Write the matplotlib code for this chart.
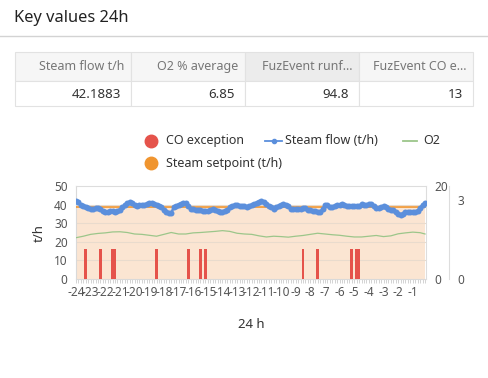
import matplotlib
matplotlib.use("Agg")
import matplotlib.pyplot as plt
from matplotlib.patches import Rectangle
from matplotlib.lines import Line2D

plt.rcParams['font.family'] = ['Noto Sans', 'DejaVu Sans']
plt.rcParams['axes.unicode_minus'] = False

W, H = 488, 378

# ---------------- data ----------------
title = "Key values 24h"
table_headers = ["Steam flow t/h", "O2 % average", "FuzEvent runf...", "FuzEvent CO e..."]
table_values = ["42.1883", "6.85", "94.8", "13"]

hour_ticks = list(range(-24, 0))
hour_labels = [str(h) for h in hour_ticks]

# steam flow every 10 minutes, from -24 h to -10 min
steam_flow = [
    42.1, 41.5, 39.8, 39.0, 38.5, 38.0,
    37.5, 37.6, 38.0, 38.4, 37.5, 36.8,
    35.8, 36.2, 36.5, 36.3, 36.2, 36.6,
    37.0, 38.5, 40.0, 40.8, 41.2, 41.0,
    40.0, 39.2, 39.6, 40.0, 39.8, 40.3,
    41.0, 40.8, 40.2, 39.8, 39.2, 38.8,
    37.0, 35.8, 35.6, 35.3, 38.5, 39.4,
    40.0, 40.3, 40.7, 41.0, 39.0, 37.6,
    37.4, 37.1, 37.0, 36.9, 36.8, 36.5,
    36.4, 37.0, 37.5, 37.2, 36.8, 36.0,
    35.8, 36.6, 37.2, 38.5, 39.2, 39.7,
    39.8, 39.5, 39.2, 39.0, 38.6, 39.2,
    39.8, 40.3, 41.0, 41.5, 41.8, 41.3,
    40.5, 39.5, 38.6, 37.7, 38.5, 39.2,
    39.8, 40.3, 40.0, 39.2, 37.8, 37.5,
    37.5, 37.6, 37.6, 38.0, 38.0, 37.3,
    37.0, 36.6, 36.3, 35.9, 36.2, 37.5,
    39.8, 40.0, 38.6, 38.8, 39.2, 39.6,
    40.0, 40.3, 39.8, 39.2, 39.2, 39.2,
    39.2, 39.2, 39.4, 40.2, 40.0, 39.8,
    40.2, 40.3, 39.5, 38.0, 38.3, 38.6,
    39.2, 38.5, 37.5, 37.3, 37.1, 36.2,
    35.0, 34.4, 35.0, 35.8, 36.1, 36.2,
    36.0, 35.8, 36.8, 38.3, 40.0, 41.0,
]
steam_time = [-24 + k / 6 for k in range(len(steam_flow))]
steam_setpoint = [38.9] * len(steam_flow)

# O2 every 30 minutes (right axis 0-20)
o2_time = [-24 + k / 2 for k in range(48)] + [-1 / 6]
o2_values = [
    8.88, 9.20, 9.60, 9.80, 9.92, 10.12, 10.16, 10.00, 9.68, 9.60,
    9.40, 9.20, 9.60, 10.00, 9.68, 9.68, 9.92, 10.00, 10.12, 10.24,
    10.40, 10.24, 9.84, 9.68, 9.60, 9.28, 9.04, 9.20, 9.12, 9.00,
    9.20, 9.36, 9.60, 9.84, 9.68, 9.52, 9.40, 9.20, 9.04, 9.04,
    9.20, 9.36, 9.12, 9.28, 9.72, 9.92, 10.08, 9.96, 9.68,
]

# CO exception events
co_time = [-23.33, -22.33, -21.5, -21.33, -18.5, -16.33, -15.5, -15.17,
           -8.5, -7.5, -5.17, -4.83, -4.67]
co_values = [1.15] * len(co_time)

# ---------------- colors ----------------
c_red = '#e5534b'
c_orange = '#f0952f'
c_blue = '#5b8fdc'
c_green = '#9cc68a'
c_fill = '#fbe5d2'
c_grid = '#e9dbcd'
c_tick = '#555555'


def fx(px):
    return px / W


def fy(py):
    return 1 - py / H


fig = plt.figure(figsize=(W / 100, H / 100), dpi=100)
fig.patch.set_facecolor('white')

# ---------------- title & separator ----------------
fig.text(fx(14), fy(18), title, fontsize=11.8, color='#222222', va='center', ha='left')
fig.add_artist(Line2D([0, 1], [fy(35.5), fy(35.5)], color='#d3d3d3', lw=1))

# ---------------- table ----------------
col_edges = [15, 130.7, 244.7, 358.7, 472.7]
row_top, row_mid, row_bot = 52.3, 81, 106.3
for i in range(4):
    x0, x1 = col_edges[i], col_edges[i + 1]
    hdr_col = '#ececec' if i == 2 else '#f6f6f6'
    fig.add_artist(Rectangle((fx(x0), fy(row_mid)), fx(x1) - fx(x0), fy(row_top) - fy(row_mid),
                             facecolor=hdr_col, edgecolor='#e2e2e2', lw=0.8, transform=fig.transFigure))
    fig.add_artist(Rectangle((fx(x0), fy(row_bot)), fx(x1) - fx(x0), fy(row_mid) - fy(row_bot),
                             facecolor='white', edgecolor='#e2e2e2', lw=0.8, transform=fig.transFigure))
    fig.text(fx(x1 - 6.5), fy(66.7), table_headers[i], fontsize=9.0, color='#777777',
             ha='right', va='center')
    fig.text(fx(x1 - 9.5), fy(94.3), table_values[i], fontsize=9.6, color='#333333',
             ha='right', va='center')

# ---------------- legend (manual) ----------------
leg_fs = 9.0
fig.add_artist(Line2D([fx(151)], [fy(140.7)], marker='o', ms=9, color=c_red, lw=0,
                      transform=fig.transFigure))
fig.text(fx(166.5), fy(140.7), "CO exception", fontsize=leg_fs, color='#333333', va='center')
fig.add_artist(Line2D([fx(265), fx(282)], [fy(140.7), fy(140.7)], color=c_blue, lw=1.3,
                      transform=fig.transFigure))
fig.add_artist(Line2D([fx(273.5)], [fy(140.7)], marker='o', ms=3, color=c_blue, lw=0,
                      transform=fig.transFigure))
fig.text(fx(285), fy(140.7), "Steam flow (t/h)", fontsize=leg_fs, color='#333333', va='center')
fig.add_artist(Line2D([fx(402.7), fx(417.3)], [fy(140.7), fy(140.7)], color=c_green, lw=1.3,
                      transform=fig.transFigure))
fig.text(fx(423), fy(140.7), "O2", fontsize=leg_fs, color='#333333', va='center')
fig.add_artist(Line2D([fx(151)], [fy(163.3)], marker='o', ms=9, color=c_orange, lw=0,
                      transform=fig.transFigure))
fig.text(fx(166.5), fy(163.3), "Steam setpoint (t/h)", fontsize=leg_fs, color='#333333', va='center')

# ---------------- chart ----------------
ax_l, ax_r, ax_t, ax_b = 76, 426, 186, 279
pos = [fx(ax_l), fy(ax_b), fx(ax_r) - fx(ax_l), fy(ax_t) - fy(ax_b)]
ax = fig.add_axes(pos)          # background: setpoint area + grid, left axis
ax.set_zorder(1)
ax3 = ax.twinx()                # CO bars (third axis)
ax3.set_zorder(2)
ax2 = ax.twinx()                # O2 (right axis 0-20)
ax2.set_zorder(3)
axf = fig.add_axes(pos, sharex=ax, sharey=ax)   # steam flow overlay
axf.set_zorder(4)
axf.patch.set_visible(False)
axf.axis('off')

ax.set_xlim(-24, -0.1)
ax.set_ylim(0, 50)
ax2.set_ylim(0, 20)
ax3.set_ylim(0, 3.55)

# setpoint area
ax.fill_between(steam_time, 0, steam_setpoint, color=c_fill, lw=0, zorder=1)
for yv in [10, 20, 30, 40]:
    ax.axhline(yv, color=c_grid, lw=0.8, zorder=1.5)

# CO bars on third axis
ax3.bar(co_time, co_values, width=0.18, color=c_red, zorder=2)

# O2 on right axis
ax2.plot(o2_time, o2_values, color=c_green, lw=0.9, zorder=3)

# setpoint line and steam flow on top
axf.plot(steam_time, steam_setpoint, color=c_orange, lw=1.2, zorder=3)
axf.plot(steam_time, steam_flow, color=c_blue, lw=1.8, marker='o', ms=4.3,
         markeredgewidth=0, zorder=4)

# axes styling
ax.set_yticks([0, 10, 20, 30, 40, 50])
ax.set_xticks(hour_ticks)
ax.set_xticklabels(hour_labels)
ax.set_xticks(steam_time, minor=True)
ax.tick_params(axis='x', which='both', length=3, color='#cccccc', width=0.6,
               labelsize=8.5, labelcolor=c_tick, pad=2)
ax.tick_params(axis='y', length=0, labelsize=8.5, labelcolor=c_tick, pad=6)
for a in (ax, ax2, ax3):
    for s in a.spines.values():
        s.set_visible(False)
ax.spines['left'].set_visible(True)
ax.spines['left'].set_color('#d9d9d9')
ax.spines['bottom'].set_visible(True)
ax.spines['bottom'].set_color('#d9d9d9')
ax.spines['top'].set_visible(True)
ax.spines['top'].set_color('#dddddd')
ax2.spines['right'].set_visible(True)
ax2.spines['right'].set_color('#dddddd')
ax2.set_yticks([0, 20])
ax2.tick_params(axis='y', length=0, labelsize=8.5, labelcolor=c_tick, pad=6)
ax3.spines['right'].set_visible(True)
ax3.spines['right'].set_color('#dddddd')
ax3.spines['right'].set_position(('outward', 16.5))
ax3.set_yticks([0, 3])
ax3.tick_params(axis='y', length=0, labelsize=8.5, labelcolor=c_tick, pad=6)

ax.set_ylabel("t/h", fontsize=9.5, fontweight='bold', color='#333333', labelpad=6)
ax.set_xlabel("24 h", fontsize=9.5, fontweight='bold', color='#333333', labelpad=14)

fig.savefig("out.png", dpi=100)
